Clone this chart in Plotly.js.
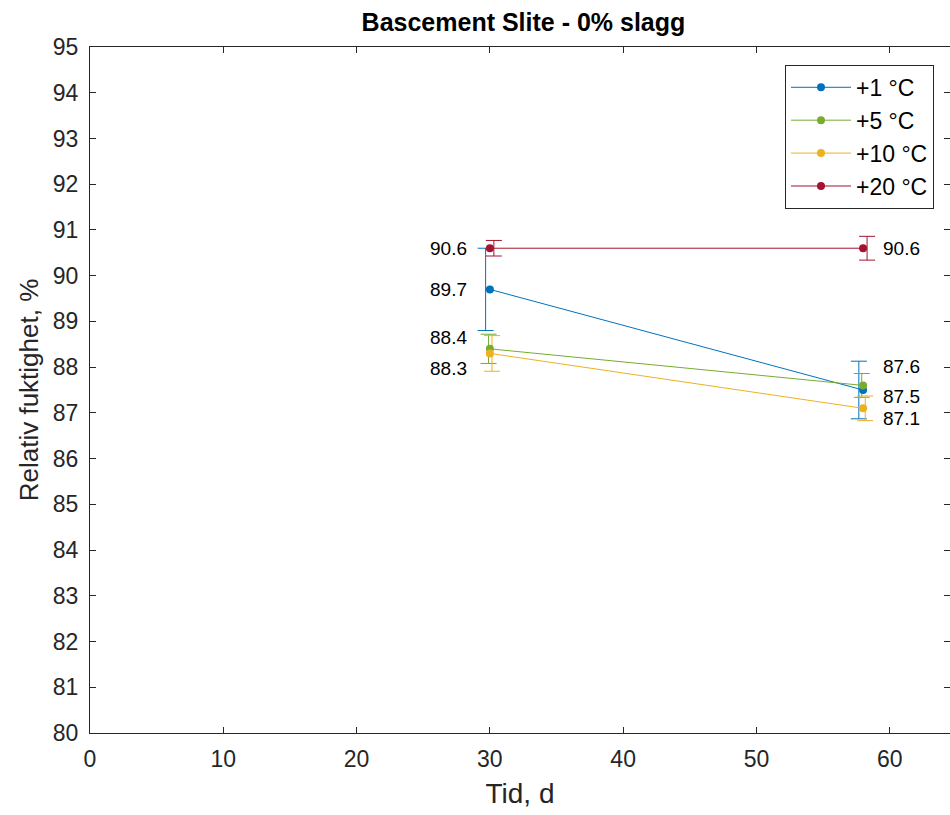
<!DOCTYPE html>
<html>
<head>
<meta charset="utf-8">
<script src="https://cdn.plot.ly/plotly-3.0.1.min.js"></script>
<style>html,body{margin:0;padding:0;background:#fff;}#chart{width:950px;height:815px;}</style>
</head>
<body>
<div id="chart"></div>
<script>
// ---- data ----
const tid = [30, 58];
const seriesNames = ['+1 °C', '+5 °C', '+10 °C', '+20 °C'];
const rf1  = [89.7, 87.5];
const rf5  = [88.4, 87.6];
const rf10 = [88.3, 87.1];
const rf20 = [90.6, 90.6];
const err1  = [0.90, 0.63];
const err5  = [0.32, 0.26];
const err10 = [0.39, 0.27];
const err20 = [0.17, 0.26];
const xTicks = [0, 10, 20, 30, 40, 50, 60];
const yTicks = [80, 81, 82, 83, 84, 85, 86, 87, 88, 89, 90, 91, 92, 93, 94, 95];

// ---- style ----
const colors = ['#0072BD', '#77AC30', '#EDB120', '#A2142F'];
const errOffset = [-0.32, -0.1, 0.16, 0.3];          // x-offset of error bars (data units)
const labelShift = [[0, -6], [11, 19], [-15, -10], [0, 0]]; // vertical label shifts px (up +)
const values = [rf1, rf5, rf10, rf20];
const errs = [err1, err5, err10, err20];
const FONT = 'Liberation Sans, Arial, sans-serif';

const traces = [];
values.forEach((v, i) => {
  traces.push({
    x: tid.map(t => t + errOffset[i]), y: v, type: 'scatter', mode: 'markers',
    marker: {size: 1, opacity: 0, color: colors[i]},
    error_y: {type: 'data', array: errs[i], visible: true, color: colors[i], thickness: 1, width: 8},
    showlegend: false, hoverinfo: 'skip'
  });
});
values.forEach((v, i) => {
  traces.push({
    x: tid, y: v, type: 'scatter', mode: 'lines+markers', name: seriesNames[i],
    line: {color: colors[i], width: 1}, marker: {color: colors[i], size: 8}
  });
});

const annotations = [];
values.forEach((v, i) => {
  v.forEach((val, j) => {
    annotations.push({
      x: tid[j], y: val, xref: 'x', yref: 'y', text: val.toFixed(1), showarrow: false,
      xanchor: j === 0 ? 'right' : 'left', xshift: j === 0 ? -21 : 18, yshift: labelShift[i][j],
      font: {family: FONT, size: 19, color: '#000'}
    });
  });
});

const axisCommon = {
  showgrid: false, zeroline: false, showline: true, linecolor: '#262626', linewidth: 1,
  ticks: 'inside', ticklen: 6, tickcolor: '#262626', mirror: 'ticks',
  tickfont: {family: FONT, size: 23, color: '#262626'}
};

const layout = {
  width: 950, height: 815,
  margin: {l: 90, r: 0, t: 47, b: 82},
  paper_bgcolor: '#fff', plot_bgcolor: '#fff',
  title: {text: '<b>Bascement Slite - 0% slagg</b>', x: 0.551, xanchor: 'center', y: 0.973, yanchor: 'middle',
          font: {family: FONT, size: 25, color: '#000'}},
  xaxis: Object.assign({}, axisCommon, {
    range: [0, 64.52], tickvals: xTicks, ticktext: xTicks.map(String), ticklabelstandoff: 5,
    title: {text: 'Tid, d', standoff: 12, font: {family: FONT, size: 28, color: '#262626'}}
  }),
  yaxis: Object.assign({}, axisCommon, {
    range: [80, 95], tickvals: yTicks, ticktext: yTicks.map(String), ticklabelstandoff: 6,
    title: {text: 'Relativ fuktighet, %', standoff: 6, font: {family: FONT, size: 26, color: '#262626'}}
  }),
  legend: {
    x: 0.9814, xanchor: 'right', y: 0.974, yanchor: 'top',
    bordercolor: '#262626', borderwidth: 1, bgcolor: '#fff',
    font: {family: FONT, size: 23, color: '#000'},
    tracegroupgap: 0, itemwidth: 60
  },
  annotations: annotations,
  showlegend: true
};

Plotly.newPlot('chart', traces, layout, {displayModeBar: false, staticPlot: true});
</script>
</body>
</html>
